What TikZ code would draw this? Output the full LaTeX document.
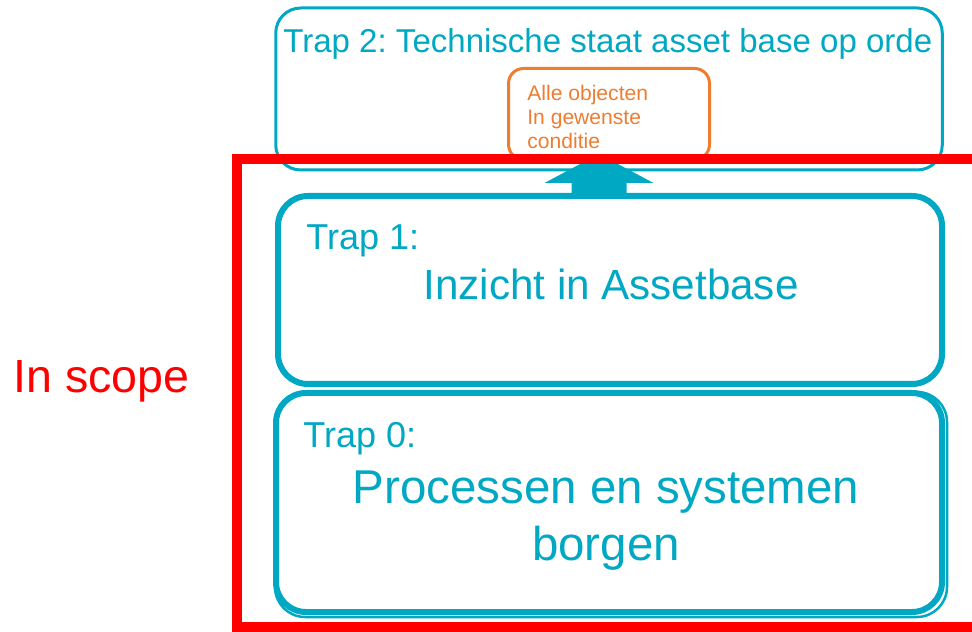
\documentclass[tikz,border=0pt]{standalone}
\usepackage{fontspec}
\setmainfont{Liberation Sans}
\frenchspacing
\usetikzlibrary{positioning}
\definecolor{trapteal}{RGB}{0,168,196}
\definecolor{goalorange}{RGB}{237,125,49}
\definecolor{scopered}{RGB}{255,0,0}
\begin{document}
\begin{tikzpicture}[
        trapbox/.style={rectangle, rounded corners=0.6cm, draw=trapteal, line width=0.12cm, fill=white, inner sep=0pt},
        goalbox/.style={rectangle, rounded corners=0.3cm, draw=goalorange, line width=0.06cm, fill=white, inner sep=0pt},
        scopebox/.style={rectangle, draw=scopered, line width=0.2cm, inner sep=0pt},
        traplabel/.style={inner sep=0pt, text=trapteal, font=\fontsize{20.5}{24}\selectfont},
        traptitle/.style={inner sep=0pt, text=trapteal, align=center}
    ]
        \useasboundingbox (0,0) rectangle (19.44,12.62);

        % Trap 2 with the goal inside
        \node[trapbox, rounded corners=0.5cm, line width=0.06cm, minimum width=13.33cm, minimum height=3.24cm] (trap2) at (12.18, 10.84) {};
        \node[traptitle, anchor=base west, font=\fontsize{18.8}{22}\selectfont] (trap2_txt) at (5.66, 11.56) {Trap 2: Technische staat asset base op orde};
        \node[goalbox, minimum width=4.02cm, minimum height=1.82cm] (goal) at (12.18, 10.34) {};
        \node[inner sep=0pt, anchor=north west, align=left, text=goalorange, font=\fontsize{12}{13.7}\selectfont] (goal_txt) at (10.54, 10.92) {Alle objecten\\In gewenste\\conditie};

        % Trap 1
        \node[trapbox, minimum width=13.28cm, minimum height=3.76cm] (trap1) at (12.2, 6.82) {};
        \node[traplabel, anchor=base west] (trap1_lbl) at (6.12, 7.62) {Trap 1:};
        \node[traptitle, anchor=base, font=\fontsize{24}{28}\selectfont] (trap1_txt) at (12.22, 6.62) {Inzicht in Assetbase};

        % Trap 0 (outline drawn twice, slightly shifted)
        \node[trapbox, minimum width=13.32cm, minimum height=4.38cm] (trap0) at (12.18, 2.57) {};
        \draw[trapteal, line width=0.05cm, rounded corners=0.6cm] ([xshift=0.04cm, yshift=-0.04cm]trap0.north west) rectangle ([xshift=0.04cm, yshift=-0.04cm]trap0.south east);
        \node[traplabel, anchor=base west] (trap0_lbl) at (6.06, 3.66) {Trap 0:};
        \node[traptitle, anchor=base, font=\fontsize{27}{32.4}\selectfont] (trap0_txt) at (12.12, 1.42) {Processen en systemen\\borgen};

        % Step up from trap 1 to trap 2
        \coordinate (lift) at ([xshift=-0.22cm]trap1.north);
        \fill[trapteal] (lift) ++(-0.55,0) -- ++(0,0.2) -- ++(-0.54,0) -- ++(1.09,0.58) -- ++(1.09,-0.58) -- ++(-0.54,0) -- ++(0,-0.2) -- cycle;

        % Scope frame
        \node[scopebox, minimum width=14.96cm, minimum height=9.35cm] (scope) at (12.22, 4.765) {};
        \node[inner sep=0pt, anchor=base west, text=scopered, font=\fontsize{26.5}{31}\selectfont] (scope_lbl) at (0.26, 4.76) {In scope};
    \end{tikzpicture}
\end{document}
